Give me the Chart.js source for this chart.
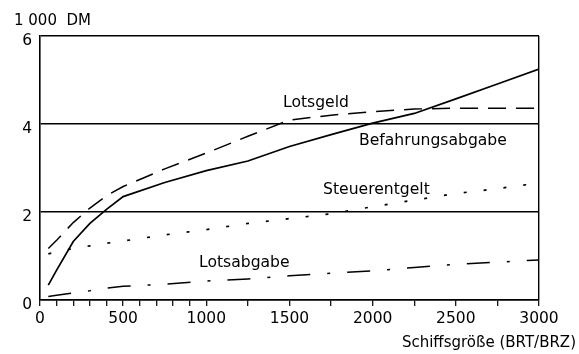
<!DOCTYPE html>
<html>
<head>
<meta charset="utf-8">
<script src="https://cdn.jsdelivr.net/npm/chart.js@4/dist/chart.umd.min.js"></script>
<style>
  html, body { margin: 0; padding: 0; background: #fff; }
  #wrap { width: 579px; height: 354px; }
</style>
</head>
<body>
<div id="wrap"><canvas id="c" width="579" height="354"></canvas></div>
<script>
// Ship size (BRT/BRZ) sample points
const sizes = [50, 100, 200, 300, 400, 500, 750, 1000, 1250, 1500, 1750, 2000, 2250, 2500, 2750, 3000];

// Charges in 1 000 DM
const befahrungsabgabe = [0.34, 0.68, 1.33, 1.74, 2.06, 2.35, 2.67, 2.94, 3.16, 3.49, 3.76, 4.02, 4.24, 4.57, 4.91, 5.25];
const lotsgeld         = [1.17, 1.36, 1.76, 2.09, 2.37, 2.58, 2.98, 3.34, 3.72, 4.09, 4.20, 4.28, 4.34, 4.36, 4.36, 4.36];
const steuerentgelt    = [1.05, 1.09, 1.17, 1.23, 1.29, 1.34, 1.48, 1.60, 1.74, 1.85, 1.96, 2.12, 2.27, 2.42, 2.53, 2.66];
const lotsabgabe       = [0.08, 0.11, 0.16, 0.21, 0.27, 0.31, 0.36, 0.43, 0.48, 0.55, 0.61, 0.66, 0.74, 0.81, 0.86, 0.91];

// Axis ticks
const xTickMarks = [0, 100, 200, 300, 400, 500, 600, 700, 800, 900, 1000, 1250, 1500, 1750, 2000, 2250, 2500, 2750, 3000];
const xTickLabels = [0, 500, 1000, 1500, 2000, 2500, 3000];
const yTickLabels = [0, 2, 4, 6];

// Curve labels: [text, x, y]
const curveLabels = [
  ['Lotsgeld', 1461, 4.48],
  ['Befahrungsabgabe', 1918, 3.61],
  ['Steuerentgelt', 1702, 2.50],
  ['Lotsabgabe', 956, 0.84]
];

const FONT_FAMILY = '"DejaVu Sans", sans-serif';

const pts = vals => sizes.map((s, i) => ({ x: s, y: vals[i] }));

const series = (data, dash, width) => ({
  data: pts(data),
  borderColor: '#000',
  borderWidth: width,
  borderDash: dash,
  pointRadius: 0,
  tension: 0,
  fill: false
});

const textPlugin = {
  id: 'texts',
  afterDraw(chart) {
    const ctx = chart.ctx;
    const xs = chart.scales.x, ys = chart.scales.y;
    ctx.save();
    ctx.fillStyle = '#000';
    ctx.textBaseline = 'middle';
    ctx.textAlign = 'left';
    ctx.font = '15.6px ' + FONT_FAMILY;
    curveLabels.forEach(([t, x, y]) => {
      ctx.fillText(t, xs.getPixelForValue(x), ys.getPixelForValue(y));
    });
    ctx.font = '15px ' + FONT_FAMILY;
    ctx.fillText('1 000  DM', 14, 21);
    ctx.textAlign = 'right';
    ctx.fillText('Schiffsgröße (BRT/BRZ)', 576, 343);
    ctx.restore();
  }
};

new Chart(document.getElementById('c'), {
  type: 'line',
  data: {
    datasets: [
      series(befahrungsabgabe, [], 1.7),
      series(lotsgeld, [18, 10], 1.5),
      series(steuerentgelt, [3, 17], 1.7),
      series(lotsabgabe, [23, 17, 3, 17], 1.5)
    ]
  },
  options: {
    responsive: false,
    animation: false,
    layout: { padding: { top: 36, right: 40, left: 0, bottom: 0 } },
    plugins: { legend: { display: false }, tooltip: { enabled: false } },
    scales: {
      x: {
        type: 'linear',
        min: 0,
        max: 3000,
        afterBuildTicks: s => { s.ticks = xTickMarks.map(v => ({ value: v })); },
        afterFit: s => { s.height = 54; },
        border: { display: true, color: '#000', width: 1.6 },
        grid: {
          drawOnChartArea: true,
          color: c => (c.tick && c.tick.value === 3000 ? '#000' : 'rgba(0,0,0,0)'),
          lineWidth: 1.4,
          tickColor: '#000',
          tickLength: 6,
          tickWidth: 1.2
        },
        ticks: {
          autoSkip: false,
          maxRotation: 0,
          padding: 4,
          color: '#000',
          font: { family: FONT_FAMILY, size: 15.5 },
          callback: v => (xTickLabels.includes(v) ? String(v) : '')
        }
      },
      y: {
        type: 'linear',
        min: 0,
        max: 6,
        afterBuildTicks: s => { s.ticks = yTickLabels.map(v => ({ value: v })); },
        afterFit: s => { s.width = 40; },
        border: { display: true, color: '#000', width: 1.6 },
        grid: {
          drawOnChartArea: true,
          drawTicks: false,
          color: '#000',
          lineWidth: 1.4
        },
        ticks: {
          padding: 8,
          labelOffset: 5,
          color: '#000',
          font: { family: FONT_FAMILY, size: 15.5 }
        }
      }
    }
  },
  plugins: [textPlugin]
});
</script>
</body>
</html>
